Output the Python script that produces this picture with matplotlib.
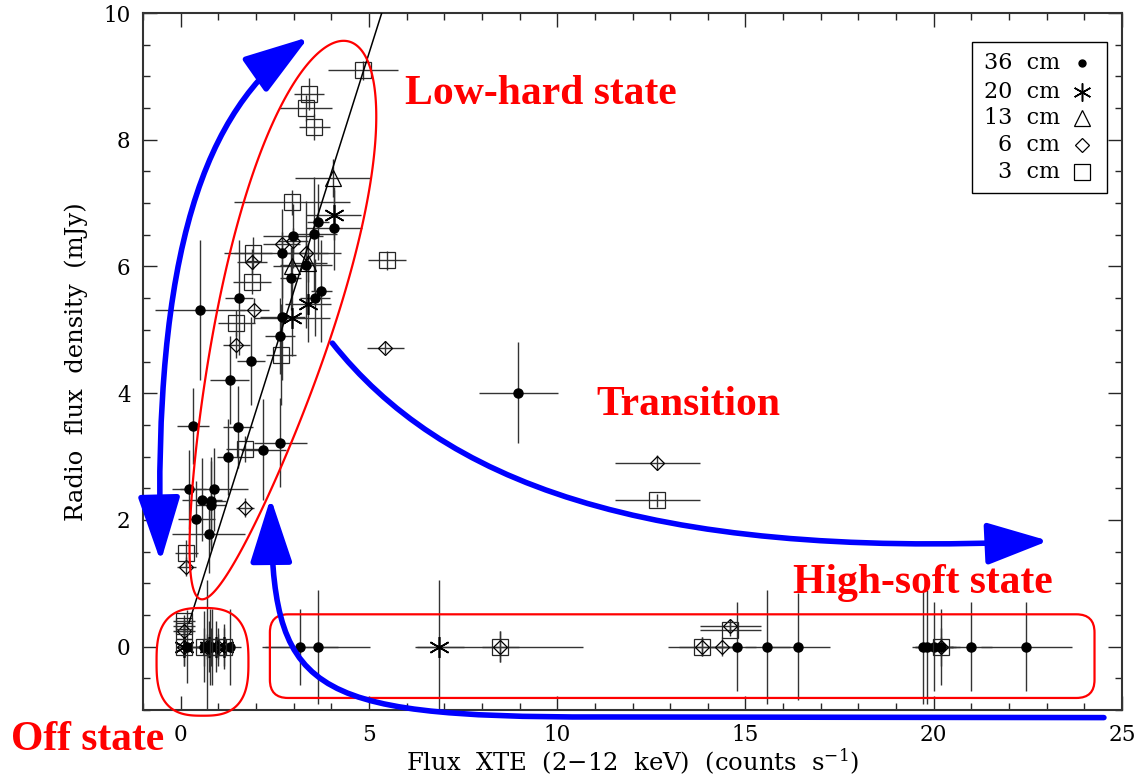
import numpy as np
import matplotlib
matplotlib.use('Agg')
import matplotlib.pyplot as plt
from matplotlib.patches import FancyArrowPatch, FancyBboxPatch, Polygon, Rectangle
from matplotlib.path import Path
from matplotlib.ticker import MultipleLocator

plt.rcParams['font.family'] = ['DejaVu Serif']
plt.rcParams['mathtext.fontset'] = 'dejavuserif'

# radio flux (mJy) vs XTE flux (counts/s), one set per wavelength
x36 = [0.51, 0.33, 1.53, 1.27, 2.19, 2.65, 0.22, 0.88, 0.56, 0.80, 0.80, 0.42, 0.75, 1.30, 1.87,
       1.55, 2.65, 2.70, 2.92, 2.98, 3.33, 3.54, 3.65, 4.07, 3.74, 3.56, 2.70,
       8.97,
       0.18, 0.62, 0.71, 0.77, 0.82, 1.31,
       3.17, 3.64, 14.78, 15.58, 16.40, 19.72, 19.81, 20.00, 20.20, 21.00, 22.46]
y36 = [5.31, 3.48, 3.47, 2.99, 3.11, 3.22, 2.48, 2.48, 2.32, 2.30, 2.23, 2.02, 1.77, 4.21, 4.51,
       5.51, 4.91, 5.21, 5.81, 6.48, 6.03, 6.51, 6.70, 6.60, 5.61, 5.51, 6.21,
       4.01,
       0, 0, 0, 0, 0, 0,
       0, 0, 0, 0, 0, 0, 0, 0, 0, 0, 0]
xerr36 = [1.20, 0.42, 0.40, 0.30, 0.60, 0.70, 0.45, 0.90, 0.53, 0.40, 0.40, 0.50, 0.97, 0.52, 0.38,
          0.36, 0.40, 0.60, 0.27, 0.80, 0.70, 0.60, 0.30, 0.75, 0.27, 0.40, 1.55,
          1.04,
          0.30, 0.40, 0.50, 0.30, 0.40, 0.30,
          1.00, 1.40, 0.50, 0.60, 0.85, 0.30, 0.30, 0.50, 0.50, 0.55, 1.20]
yerr36 = [1.10, 0.60, 0.65, 0.60, 0.80, 0.70, 0.63, 0.66, 0.65, 0.70, 0.70, 0.60, 0.60, 0.70, 0.70,
          0.90, 0.60, 1.00, 0.50, 0.50, 1.00, 0.90, 0.60, 0.65, 0.80, 0.60, 0.70,
          0.80,
          0.58, 0.56, 1.05, 0.60, 0.60, 0.60,
          0.60, 0.90, 0.70, 0.90, 0.85, 0.90, 0.90, 0.70, 0.60, 0.70, 0.70]

x20 = [4.07, 3.38, 2.96, 6.87, 0.10, 0.75, 0.95, 1.15]
y20 = [6.81, 5.40, 5.19, 0, 0, 0, 0, 0]
xerr20 = [0.73, 0.60, 1.00, 0.65, 0.20, 0.30, 0.30, 0.25]
yerr20 = [0.40, 0.60, 0.60, 1.05, 0.30, 0.40, 0.40, 0.35]

x13 = [4.05, 2.96, 3.39]
y13 = [7.40, 6.00, 6.05]
xerr13 = [1.00, 0.50, 0.50]
yerr13 = [0.30, 0.30, 0.30]

x6 = [2.68, 2.98, 3.32, 1.90, 1.94, 1.48, 1.71, 0.15, 5.44, 12.66, 0.10, 0.10, 0.70, 1.00,
      8.49, 13.84, 14.39, 14.60, 20.20]
y6 = [6.35, 6.40, 6.22, 6.07, 5.31, 4.76, 2.19, 1.26, 4.72, 2.90, 0.25, 0.00, 0.00, 0.00,
      0, 0, 0, 0.33, 0]
xerr6 = [0.50, 0.40, 0.60, 0.40, 0.40, 0.35, 0.25, 0.25, 0.50, 1.12, 0.20, 0.20, 0.20, 0.20,
         0.50, 0.60, 0.30, 0.80, 0.40]
yerr6 = [0.20, 0.20, 0.20, 0.20, 0.20, 0.20, 0.15, 0.15, 0.10, 0.12, 0.10, 0.15, 0.20, 0.20,
         0.25, 0.15, 0.15, 0.10, 0.30]

x3 = [4.84, 3.42, 3.32, 3.55, 2.96, 1.93, 1.90, 1.48, 2.67, 1.70, 5.48, 0.15, 12.66,
      0.09, 0.09, 0.09, 0.10, 0.62, 0.80, 0.98, 1.15,
      8.49, 13.84, 14.60, 20.20]
y3 = [9.10, 8.72, 8.50, 8.20, 7.01, 6.21, 5.76, 5.11, 4.61, 3.12, 6.10, 1.48, 2.31,
      0.40, 0.33, 0.25, 0.00, 0.00, 0.00, 0.00, 0.00,
      0, 0, 0.27, 0]
xerr3 = [0.92, 0.40, 0.70, 0.42, 1.55, 0.50, 0.50, 0.50, 0.40, 0.50, 0.50, 0.30, 1.12,
         0.30, 0.30, 0.30, 0.20, 0.20, 0.20, 0.20, 0.20,
         2.20, 0.90, 0.80, 0.30]
yerr3 = [0.15, 0.25, 0.20, 0.20, 0.20, 0.25, 0.20, 0.20, 0.80, 0.20, 0.15, 0.20, 0.10,
         0.10, 0.10, 0.10, 0.30, 0.30, 0.30, 0.30, 0.30,
         0.25, 0.15, 0.10, 0.15]

# linear correlation in the low-hard state
fit_slope = 1.88
fit_intercept = -0.04
fit_xmin, fit_xmax = 0.22, 5.5

band_labels = ['36 cm', '20 cm', '13 cm', '6 cm', '3 cm']

W, H = 1141, 782
fig = plt.figure(figsize=(W / 100, H / 100), dpi=100)
ax = fig.add_axes([143 / W, 1 - 710 / H, 979 / W, 697 / H])

ecol = '0.2'
ekw = dict(ecolor=ecol, elinewidth=1.0, capsize=0, linestyle='none', zorder=3)

sets = [
    (x36, y36, xerr36, yerr36, dict(marker='o', ms=6.5, mfc='k', mec='k')),
    (x20, y20, xerr20, yerr20, dict(marker=(6, 2, 0), ms=15, mfc='none', mec='k', mew=1.2)),
    (x13, y13, xerr13, yerr13, dict(marker='^', ms=12, mfc='none', mec='k', mew=0.9)),
    (x6, y6, xerr6, yerr6, dict(marker='D', ms=7.5, mfc='none', mec='k', mew=0.9)),
    (x3, y3, xerr3, yerr3, dict(marker='s', ms=12, mfc='none', mec='0.15', mew=0.9)),
]
for xs, ys, xe, ye, mk in sets:
    ax.errorbar(xs, ys, xerr=xe, yerr=ye, **mk, **ekw)

fx = np.linspace(fit_xmin, fit_xmax, 50)
ax.plot(fx, fit_slope * fx + fit_intercept, color='k', lw=1.1, zorder=4)

ax.set_xlim(-1, 25)
ax.set_ylim(-1, 10)
ax.xaxis.set_major_locator(MultipleLocator(5))
ax.xaxis.set_minor_locator(MultipleLocator(1))
ax.yaxis.set_major_locator(MultipleLocator(2))
ax.yaxis.set_minor_locator(MultipleLocator(0.5))
ax.tick_params(which='both', direction='in', top=True, right=True, width=1.0,
               color='0.15', labelsize=15.5)
ax.tick_params(axis='x', pad=10)
ax.tick_params(axis='y', pad=9)
ax.tick_params(which='major', length=10)
ax.tick_params(which='minor', length=5)
for s in ax.spines.values():
    s.set_linewidth(1.5)
    s.set_color('0.2')

ax.set_xlabel('Flux  XTE  (2\u221212  keV)  (counts  s$^{-1}$)', fontsize=17.5, labelpad=1)
ax.set_ylabel('Radio  flux  density  (mJy)', fontsize=17.5, labelpad=11)

# legend box, labels right-aligned with the symbol after them
ax.add_patch(Rectangle((0.8464, 0.7413), 0.1379, 0.2175, transform=ax.transAxes,
                       fill=False, ec='k', lw=1.0, zorder=6))
leg_y = [0.928, 0.887, 0.850, 0.811, 0.772]
leg_mk = [dict(marker='o', ms=5, mfc='k', mec='k'),
          dict(marker=(6, 2, 0), ms=13, mec='k', mew=1.1),
          dict(marker='^', ms=11, mfc='none', mec='k', mew=0.9),
          dict(marker='D', ms=7, mfc='none', mec='k', mew=0.9),
          dict(marker='s', ms=11, mfc='none', mec='k', mew=0.9)]
for lab, yy, mk in zip(band_labels, leg_y, leg_mk):
    ax.text(0.937, yy, lab.replace(' ', '  '), transform=ax.transAxes, ha='right', va='center',
            fontsize=16, zorder=7)
    ax.plot([0.959], [yy], transform=ax.transAxes, linestyle='none', zorder=7, **mk)

# state regions
red = '#ff0000'
t = np.linspace(0, 2 * np.pi, 400)
c = np.array([2.50, 5.15])
a_vec = np.array([1.97, 4.40])
b_vec = np.array([1.50, -0.24])
taper = 1 + 0.3 * np.cos(t)
egg = c + np.outer(np.cos(t), a_vec) + np.outer(np.sin(t) * taper, b_vec)
ax.add_patch(Polygon(egg, closed=True, fill=False, ec=red, lw=1.6, zorder=8))

n = 2.8
bx = 0.58 + 1.22 * np.sign(np.cos(t)) * np.abs(np.cos(t)) ** (2 / n)
by = -0.24 + 0.85 * np.sign(np.sin(t)) * np.abs(np.sin(t)) ** (2 / n)
ax.add_patch(Polygon(np.column_stack([bx, by]), closed=True, fill=False, ec=red, lw=1.6,
                     zorder=8, clip_on=False))

ax.add_patch(FancyBboxPatch((2.37, -0.81), 24.27 - 2.37, 0.51 + 0.81,
                            boxstyle='round,pad=0,rounding_size=0.48', mutation_aspect=0.596,
                            fill=False, ec=red, lw=1.6, zorder=8))

# evolution arrows
blue = '#0000ff'
arrow_kw = dict(color=blue, lw=4, mutation_scale=10, zorder=9, clip_on=False,
                shrinkA=0, shrinkB=0)
p1 = Path([(-0.53, 1.34), (-0.74, 6.27), (0.66, 8.48), (3.40, 9.62)],
          [Path.MOVETO, Path.CURVE4, Path.CURVE4, Path.CURVE4])
ax.add_patch(FancyArrowPatch(path=p1, arrowstyle='<|-|>,head_length=4,head_width=1.3', **arrow_kw))
p2 = Path([(4.03, 4.79), (6.90, 2.64), (12.20, 1.37), (23.05, 1.67)],
          [Path.MOVETO, Path.CURVE4, Path.CURVE4, Path.CURVE4])
ax.add_patch(FancyArrowPatch(path=p2, arrowstyle='-|>,head_length=3.8,head_width=1.3', **arrow_kw))
p3 = Path([(24.52, -1.12), (11.14, -1.11), (3.18, -1.12), (2.44, -0.68), (2.39, 2.35)],
          [Path.MOVETO, Path.LINETO, Path.CURVE4, Path.CURVE4, Path.CURVE4])
ax.add_patch(FancyArrowPatch(path=p3, arrowstyle='-|>,head_length=4,head_width=1.3', **arrow_kw))

lab_kw = dict(color=red, fontsize=30, fontweight='bold', family='Liberation Serif',
              ha='left', va='baseline', zorder=10, clip_on=False)
ax.text(5.97, 8.56, 'Low-hard state', **lab_kw)
ax.text(11.03, 3.65, 'Transition', **lab_kw)
ax.text(16.26, 0.85, 'High-soft state', **lab_kw)
ax.text(-4.51, -1.63, 'Off state', **lab_kw)

fig.savefig('out.png', dpi=100)
